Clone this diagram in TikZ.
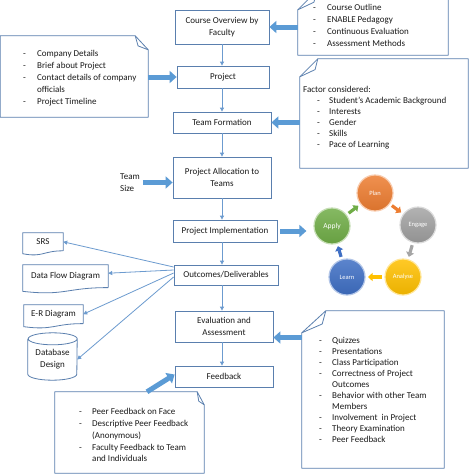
\documentclass[tikz,border=0pt]{standalone}
\usepackage{fontspec}
\setmainfont{Carlito}
\usetikzlibrary{arrows.meta,calc}

\definecolor{boxline}{HTML}{5A7FAE}
\definecolor{abl}{HTML}{5B9BD5}
\definecolor{thinbl}{HTML}{6C9BCF}
\definecolor{txt}{HTML}{1A1A1A}
\definecolor{cplan}{HTML}{ED7D31}
\definecolor{cengage}{HTML}{A5A5A5}
\definecolor{canalyse}{HTML}{FFC000}
\definecolor{clearn}{HTML}{3F6FC4}
\definecolor{capply}{HTML}{70AD47}

\newcommand\dsh[1]{\makebox[#1][l]{-}}
\newcommand\mynoteTL[3]{%
 \draw[noteline] ([yshift=-#3]#1.north west) -- ([xshift=#2]#1.north west) -- (#1.north east) -- (#1.south east) -- (#1.south west) -- cycle;
 \draw[noteline] ([yshift=-#3]#1.north west) -- ([xshift=0.85*#2,yshift=-0.6*#3]#1.north west) -- ([xshift=#2]#1.north west);}
\newcommand\mynoteTR[3]{%
 \draw[noteline] ([yshift=-#3]#1.north east) -- ([xshift=-#2]#1.north east) -- (#1.north west) -- (#1.south west) -- (#1.south east) -- cycle;
 \draw[noteline] ([yshift=-#3]#1.north east) -- ([xshift=-0.78*#2,yshift=-0.72*#3]#1.north east) -- ([xshift=-#2]#1.north east);}
\newcommand\mydoc[2]{%
 \draw[boxl] (#1.south east) -- (#1.north east) -- (#1.north west) -- ([yshift=-0.167*#2]#1.south west) .. controls ([yshift=-0.384*#2]#1.south) and (#1.south) .. (#1.south east);}

\begin{document}
\begin{tikzpicture}[x=1pt,y=-1pt,
 box/.style={draw=boxline, line width=0.8pt, text=txt, font=\fontsize{9}{12}\selectfont, align=center, inner sep=0pt},
 noteline/.style={draw=boxline, line width=0.8pt, line join=round},
 boxl/.style={draw=boxline, line width=0.8pt},
 frame/.style={draw=none, inner sep=0pt},
 plain/.style={draw=none, inner sep=0pt, text=txt, font=\fontsize{9}{12}\selectfont, align=center},
 notetext/.style={text=txt, font=\fontsize{9}{11.5}\selectfont, align=left, inner sep=0pt, anchor=west},
 thinarrow/.style={draw=thinbl, line width=0.8pt, -{Triangle[length=4pt,width=4pt]}},
 blockarrow/.style={draw=abl, line width=5pt, -{Triangle[length=7pt,width=12pt]}},
 cyc/.style={circle, minimum size=36pt, inner sep=0pt, text=white, font=\fontsize{6.5}{7}\selectfont, line width=1.2pt},
 cycarrow/.style={line width=3.2pt, -{Triangle[length=4.5pt,width=8pt]}, shorten <=21pt, shorten >=21pt}
]
\useasboundingbox (0,0) rectangle (474,474);
\fill[white] (0,0) rectangle (474,474);

% central column
\node[box, minimum width=94pt, minimum height=34pt] (co) at (222,27) {Course Overview by\\Faculty};
\node[box, minimum width=92pt, minimum height=22pt] (proj) at (223,77) {Project};
\node[box, minimum width=98pt, minimum height=21pt] (tf) at (222,122.5) {Team Formation};
\node[box, minimum width=98pt, minimum height=41pt] (pa) at (222,177.5) {Project Allocation to\\Teams};
\node[box, minimum width=104pt, minimum height=22pt] (pi) at (225,231) {Project Implementation};
\node[box, minimum width=104pt, minimum height=20pt] (od) at (226,275) {Outcomes/Deliverables};
\node[box, minimum width=98pt, minimum height=31pt] (ea) at (224,326.5) {Evaluation and\\Assessment};
\node[box, minimum width=98pt, minimum height=21pt] (fb) at (224,376.5) {Feedback};
\coordinate (axis) at (222,0);

\draw[thinarrow] (axis |- co.south) -- (axis |- proj.north);
\draw[thinarrow] (axis |- proj.south) -- (axis |- tf.north);
\draw[thinarrow] (axis |- tf.south) -- (axis |- pa.north);
\draw[thinarrow] (axis |- pa.south) -- (axis |- pi.north);
\draw[thinarrow] (axis |- pi.south) -- (axis |- od.north);
\draw[thinarrow] (axis |- od.south) -- (axis |- ea.north);
\draw[thinarrow] (axis |- ea.south) -- (axis |- fb.north);

% notes
\node[frame, minimum width=147.5pt, minimum height=81pt] (compnote) at (74.25,76.5) {};
\mynoteTR{compnote}{13pt}{14pt}
\node[notetext, font=\fontsize{9}{12}\selectfont] (ctext) at (23,77.7) {\dsh{14pt}Company Details\\ \dsh{14pt}Brief about Project\\ \dsh{14pt}Contact details of company\\ \hspace*{14pt}officials\\ \dsh{14pt}Project Timeline};

\node[frame, minimum width=150pt, minimum height=64pt] (cnote) at (373,23) {};
\mynoteTL{cnote}{19pt}{19pt}
\node[notetext, font=\fontsize{9}{12}\selectfont] (otext) at (313,25.5) {\dsh{14pt}Course Outline\\ \dsh{14pt}ENABLE Pedagogy\\ \dsh{14pt}Continuous Evaluation\\ \dsh{14pt}Assessment Methods};

\node[frame, minimum width=168pt, minimum height=109pt] (fnote) at (384,113.5) {};
\mynoteTL{fnote}{18pt}{18pt}
\node[notetext, font=\fontsize{9}{11}\selectfont] (ftext) at (303,117.2) {Factor considered:\\ \hspace*{14pt}\dsh{12pt}Student’s Academic Background\\ \hspace*{14pt}\dsh{12pt}Interests\\ \hspace*{14pt}\dsh{12pt}Gender\\ \hspace*{14pt}\dsh{12pt}Skills\\ \hspace*{14pt}\dsh{12pt}Pace of Learning};

\node[frame, minimum width=142pt, minimum height=157pt] (qnote) at (373,389.5) {};
\mynoteTL{qnote}{24pt}{22pt}
\node[notetext, font=\fontsize{9}{11}\selectfont] (qtext) at (319,390.2) {\dsh{13pt}Quizzes\\ \dsh{13pt}Presentations\\ \dsh{13pt}Class Participation\\ \dsh{13pt}Correctness of Project\\ \hspace*{13pt}Outcomes\\ \dsh{13pt}Behavior with other Team\\ \hspace*{13pt}Members\\ \dsh{13pt}Involvement\ \ in Project\\ \dsh{13pt}Theory Examination\\ \dsh{13pt}Peer Feedback};

\node[frame, minimum width=149pt, minimum height=81pt] (fbnote) at (129.5,432.5) {};
\mynoteTR{fbnote}{7pt}{13pt}
\node[notetext, font=\fontsize{9}{11.75}\selectfont] (fbtext) at (79,435.2) {\dsh{13pt}Peer Feedback on Face\\ \dsh{13pt}Descriptive Peer Feedback\\ \hspace*{13pt}(Anonymous)\\ \dsh{13pt}Faculty Feedback to Team\\ \hspace*{13pt}and Individuals};

\node[plain, align=left, anchor=west] (ts) at (120,182.5) {Team\\Size};

% cycle
\node[cyc, top color=cplan!85!white, bottom color=cplan!92!black, draw=cplan!40!white] (plan) at (375,193) {Plan};
\node[cyc, top color=cengage!85!white, bottom color=cengage!88!black, draw=cengage!40!white] (engage) at (418,225) {Engage};
\node[cyc, top color=canalyse!85!white, bottom color=canalyse!92!black, draw=canalyse!40!white] (analyse) at (403,277) {Analyse};
\node[cyc, top color=clearn!85!white, bottom color=clearn!92!black, draw=clearn!40!white] (learn) at (347,277) {Learn};
\node[cyc, top color=capply!85!white, bottom color=capply!92!black, draw=capply!40!white, font=\fontsize{7.5}{8}\selectfont] (apply) at (332,226) {Apply};
\draw[cycarrow, draw=cplan] (plan.center) -- (engage.center);
\draw[cycarrow, draw=cengage] (engage.center) -- (analyse.center);
\draw[cycarrow, draw=canalyse] (analyse.center) -- (learn.center);
\draw[cycarrow, draw=clearn] (learn.center) -- (apply.center);
\draw[cycarrow, draw=capply] (apply.center) -- (plan.center);

% deliverables
\node[plain, minimum width=40pt, minimum height=17.6pt] (srs) at (43,241.8) {SRS};
\mydoc{srs}{17.6pt}
\node[plain, minimum width=85pt, minimum height=22.4pt] (dfd) at (65.5,276.2) {Data Flow Diagram};
\mydoc{dfd}{22.4pt}
\node[plain, minimum width=59pt, minimum height=18.4pt] (er) at (53.5,314.2) {E-R Diagram};
\mydoc{er}{18.4pt}
\node[plain, minimum width=49pt, minimum height=41pt] (db) at (52.5,359.5) {Database\\Design};
\draw[boxl] (db.north west) -- ([yshift=6pt]db.south west) arc[start angle=180, end angle=360, x radius=24.5pt, y radius=6pt] -- (db.north east) arc[start angle=0, end angle=360, x radius=24.5pt, y radius=6pt];

\draw[thinarrow] ([yshift=8pt]od.west) -- (srs.east);
\draw[thinarrow] ([yshift=5pt]od.west) -- ([yshift=3pt]dfd.east);
\draw[thinarrow] ([yshift=2pt]od.west) -- (er.east);
\draw[thinarrow] ([yshift=-2pt]od.west) -- (db.east);

% block arrows
\draw[blockarrow] (cnote.west |- co.east) -- (co.east);
\draw[blockarrow] (compnote.east |- proj.west) -- (proj.west);
\draw[blockarrow] (fnote.west |- tf.east) -- (tf.east);
\draw[blockarrow, shorten <=3pt] (ts.east) -- (ts.east -| pa.west);
\draw[blockarrow, shorten <=3pt, shorten >=7pt] (pi.east) -- (pi.east -| apply.west);
\coordinate (eain) at ([yshift=-11pt]ea.east);
\draw[blockarrow] (qnote.west |- eain) -- (eain);
\draw[blockarrow] ([xshift=17.5pt]fbnote.north) -- ([yshift=2pt]fb.west);
\end{tikzpicture}
\end{document}
